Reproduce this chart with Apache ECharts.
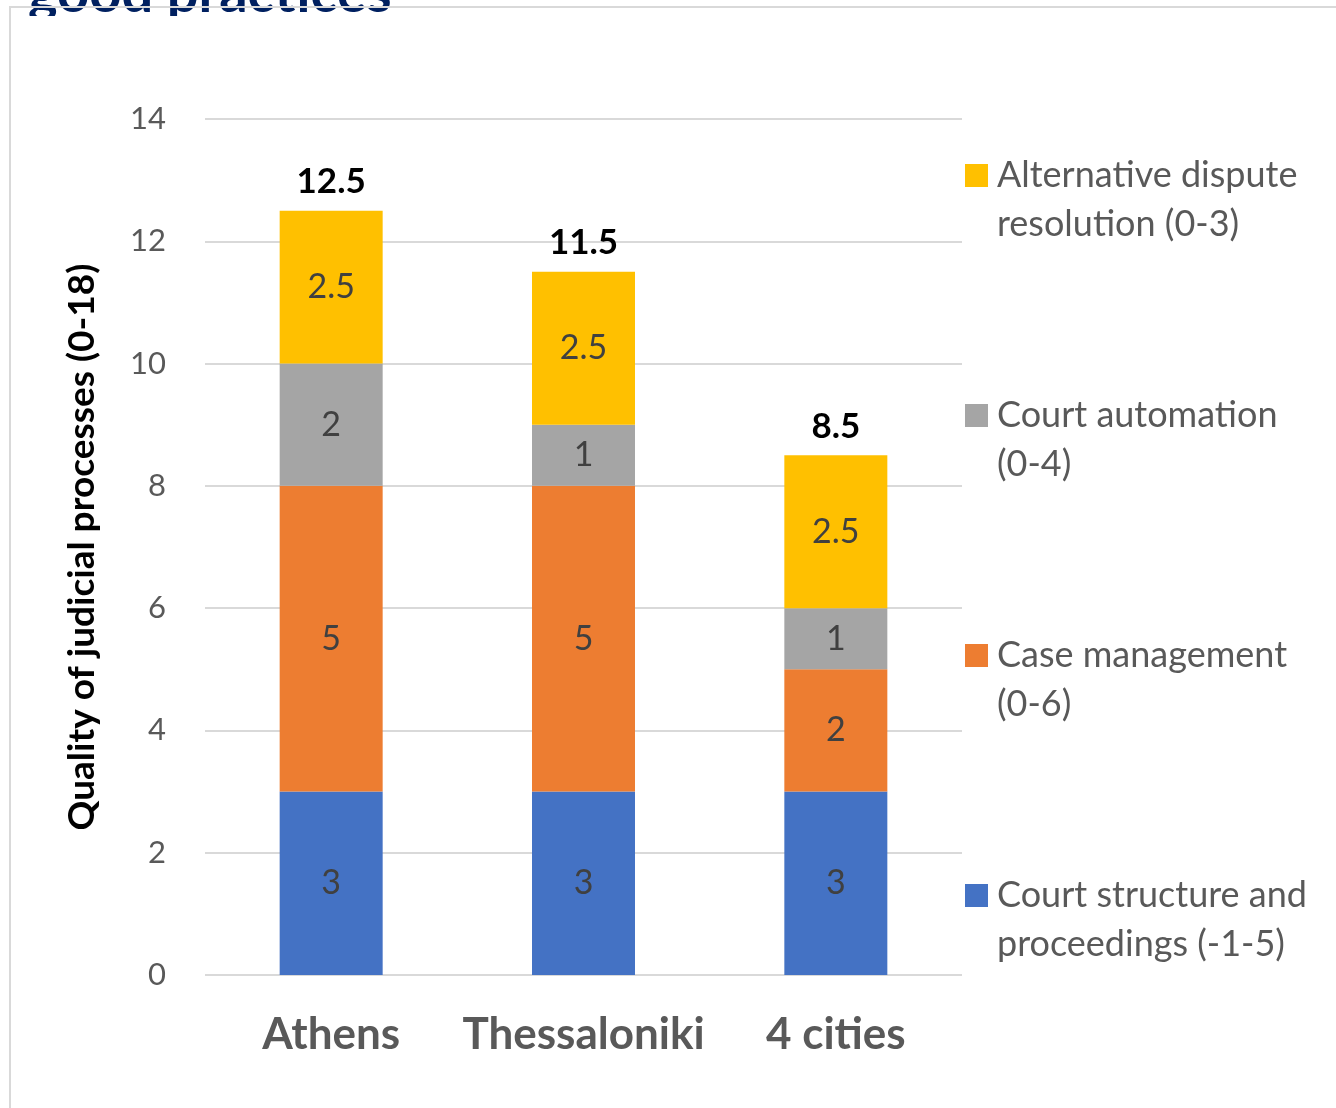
<!DOCTYPE html>
<html lang="en">
<head>
    <meta charset="UTF-8">
    <title>Quality of judicial processes</title>
    <script src="https://cdn.jsdelivr.net/npm/echarts@6/dist/echarts.min.js"></script>
    <style>
        html, body { margin: 0; padding: 0; background: #fff; }
        #chart { width: 1336px; height: 1108px; }
    </style>
</head>
<body>
<div id="chart"></div>
<script type="text/javascript">
    // categories and series values
    var cities = ['Athens', 'Thessaloniki', '4 cities'];
    var courtStructure = [3, 3, 3];
    var caseManagement = [5, 5, 2];
    var courtAutomation = [2, 1, 1];
    var altDispute = [2.5, 2.5, 2.5];
    var totals = [12.5, 11.5, 8.5];
    var yTicks = [0, 2, 4, 6, 8, 10, 12, 14];

    var seriesNames = [
        'Court structure and proceedings (-1-5)',
        'Case management (0-6)',
        'Court automation (0-4)',
        'Alternative dispute resolution (0-3)'
    ];
    // legend text is wrapped on two lines like the original
    var legendText = {
        'Court structure and proceedings (-1-5)': 'Court structure and\nproceedings (-1-5)',
        'Case management (0-6)': 'Case management\n(0-6)',
        'Court automation (0-4)': 'Court automation\n(0-4)',
        'Alternative dispute resolution (0-3)': 'Alternative dispute\nresolution (0-3)'
    };
    var colors = ['#4472C4', '#ED7D31', '#A5A5A5', '#FFC000'];
    var values = [courtStructure, caseManagement, courtAutomation, altDispute];

    var font = 'Lato, "Open Sans", sans-serif';
    var chart = echarts.init(document.getElementById('chart'));

    var barSeries = values.map(function (v, i) {
        return {
            name: seriesNames[i],
            type: 'bar',
            stack: 'total',
            barWidth: 103,
            data: v,
            itemStyle: { color: colors[i] },
            label: {
                show: true,
                position: 'inside',
                color: '#404040',
                fontSize: 34,
                fontFamily: font
            }
        };
    });

    // totals on top of each bar
    barSeries.push({
        name: 'Total',
        type: 'line',
        data: totals,
        symbol: 'circle',
        symbolSize: 1,
        itemStyle: { color: 'rgba(0,0,0,0)' },
        lineStyle: { width: 0, opacity: 0 },
        label: {
            show: true,
            position: 'top',
            distance: 11,
            color: '#000',
            fontWeight: 'bold',
            fontSize: 35,
            fontFamily: font
        },
        z: 5
    });

    var option = {
        animation: false,
        textStyle: { fontFamily: font },
        grid: { left: 205, right: 374, top: 119, bottom: 133 },
        legend: {
            orient: 'vertical',
            left: 965,
            top: 102,
            padding: 0,
            itemWidth: 23,
            itemHeight: 23,
            itemGap: 93,
            icon: 'rect',
            data: [seriesNames[3], seriesNames[2], seriesNames[1], seriesNames[0]],
            // empty first line keeps the square level with the first text line
            formatter: function (name) { return '\n' + legendText[name]; },
            textStyle: {
                fontFamily: font,
                fontSize: 36,
                color: '#595959',
                lineHeight: 49,
                padding: [0, 0, 0, 4]
            }
        },
        xAxis: {
            type: 'category',
            data: cities,
            axisLine: { show: false },
            axisTick: { show: false },
            axisLabel: {
                interval: 0,
                margin: 38,
                color: '#595959',
                fontWeight: 'bold',
                fontSize: 44,
                fontFamily: font
            }
        },
        yAxis: {
            type: 'value',
            min: yTicks[0],
            max: yTicks[yTicks.length - 1],
            interval: 2,
            name: 'Quality of judicial processes (0-18)',
            nameLocation: 'middle',
            nameGap: 104,
            nameTextStyle: {
                color: '#000',
                fontWeight: 'bold',
                fontSize: 37,
                fontFamily: font
            },
            axisLine: { show: false },
            axisTick: { show: false },
            axisLabel: {
                margin: 39,
                color: '#595959',
                fontSize: 31,
                fontFamily: font
            },
            splitLine: { lineStyle: { color: '#D9D9D9', width: 2 } }
        },
        graphic: [
            {
                // title cut off at the top edge
                type: 'text',
                left: 28,
                top: -34,
                z: 1,
                style: {
                    text: 'good practices',
                    font: 'bold 56px Lato, sans-serif',
                    fill: '#002060'
                }
            },
            {
                type: 'rect',
                z: 2,
                shape: { x: 11, y: 16, width: 460, height: 30 },
                style: { fill: '#fff' }
            },
            {
                type: 'rect',
                z: 3,
                shape: { x: 10, y: 7, width: 1400, height: 1200 },
                style: { fill: 'none', stroke: '#D9D9D9', lineWidth: 2 }
            }
        ],
        series: barSeries
    };

    chart.setOption(option);
</script>
</body>
</html>
